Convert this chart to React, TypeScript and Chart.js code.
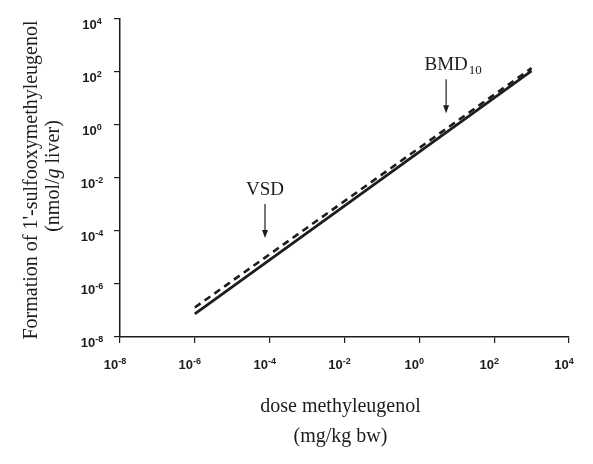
import React, { useEffect, useRef } from 'react';
import { Chart, registerables } from 'chart.js';

Chart.register(...registerables);

// ---- data ----
const doseMgKg = [1e-6, 1e3];
const formationSolid = [7.5e-8, 1.1e2];
const formationDashed = [1.3e-7, 1.4e2];
const tickExponents = [-8, -6, -4, -2, 0, 2, 4];
const markerNames = ['VSD', 'BMD'];
const markerSubscripts = ['', '10'];
const markerDoses = [7.5e-5, 5.2];
const markerTipValues = [5.5e-5, 2.8];
const xTitleLines = ['dose methyleugenol', '(mg/kg bw)'];
const yTitleLine = "Formation of 1'-sulfooxymethyleugenol";
const yUnitParts = ['(nmol/', 'g', ' liver)'];

const INK = '#1c1c1c';
const SERIF = "'Liberation Serif', 'Times New Roman', serif";
const SANS = "'Liberation Sans', Arial, sans-serif";

const overlay = {
  id: 'overlay',
  afterDraw(chart: any) {
    const { ctx, scales, chartArea: ca } = chart;
    const xs = scales.x;
    const ys = scales.y;
    ctx.save();
    ctx.fillStyle = INK;
    ctx.strokeStyle = INK;

    const drawPower = (exp: number, cx: number, baseY: number) => {
      const base = '10';
      const sup = String(exp);
      ctx.font = `bold 13px ${SANS}`;
      const wb = ctx.measureText(base).width;
      ctx.font = `bold 9px ${SANS}`;
      const ws = ctx.measureText(sup).width;
      const x0 = cx - (wb + ws) / 2;
      ctx.textAlign = 'left';
      ctx.textBaseline = 'alphabetic';
      ctx.font = `bold 13px ${SANS}`;
      ctx.fillText(base, x0, baseY);
      ctx.font = `bold 9px ${SANS}`;
      ctx.fillText(sup, x0 + wb, baseY - 5);
    };

    tickExponents.forEach((e) => {
      const v = Math.pow(10, e);
      drawPower(e, xs.getPixelForValue(v) - 5, ca.bottom + 32);
      drawPower(e, ca.left - 28, ys.getPixelForValue(v) + 10);
    });

    // x title
    ctx.font = `20px ${SERIF}`;
    ctx.textAlign = 'center';
    ctx.textBaseline = 'middle';
    const xc = (ca.left + ca.right) / 2 - 4;
    ctx.fillText(xTitleLines[0], xc, ca.bottom + 70);
    ctx.fillText(xTitleLines[1], xc, ca.bottom + 100);

    // y title
    ctx.save();
    ctx.translate(32, 180);
    ctx.rotate(-Math.PI / 2);
    ctx.font = `20px ${SERIF}`;
    ctx.textAlign = 'center';
    ctx.textBaseline = 'middle';
    ctx.fillText(yTitleLine, 0, 0);
    ctx.restore();

    ctx.save();
    ctx.translate(54, 176);
    ctx.rotate(-Math.PI / 2);
    ctx.textAlign = 'left';
    ctx.textBaseline = 'middle';
    const fonts = yUnitParts.map((_, i) => (i === 1 ? `italic 20px ${SERIF}` : `20px ${SERIF}`));
    const widths = yUnitParts.map((p, i) => {
      ctx.font = fonts[i];
      return ctx.measureText(p).width;
    });
    let px = -widths.reduce((a, b) => a + b, 0) / 2;
    yUnitParts.forEach((p, i) => {
      ctx.font = fonts[i];
      ctx.fillText(p, px, 0);
      px += widths[i];
    });
    ctx.restore();

    // markers
    markerNames.forEach((name, i) => {
      const x = xs.getPixelForValue(markerDoses[i]);
      const tipY = ys.getPixelForValue(markerTipValues[i]);
      const topY = tipY - 34;
      ctx.lineWidth = 1.2;
      ctx.beginPath();
      ctx.moveTo(x, topY);
      ctx.lineTo(x, tipY - 6);
      ctx.stroke();
      ctx.beginPath();
      ctx.moveTo(x - 3, tipY - 8);
      ctx.lineTo(x + 3, tipY - 8);
      ctx.lineTo(x, tipY);
      ctx.closePath();
      ctx.fill();

      ctx.font = `19px ${SERIF}`;
      ctx.textAlign = 'center';
      ctx.textBaseline = 'middle';
      const w = ctx.measureText(name).width;
      ctx.fillText(name, x, topY - 14);
      if (markerSubscripts[i]) {
        ctx.font = `13px ${SERIF}`;
        ctx.textAlign = 'left';
        ctx.fillText(markerSubscripts[i], x + w / 2 + 1, topY - 9);
      }
    });

    ctx.restore();
  },
};

export default function App() {
  const ref = useRef<HTMLCanvasElement | null>(null);

  useEffect(() => {
    document.body.style.margin = '0';
    const canvas = ref.current;
    if (!canvas) return;
    const chart = new Chart(canvas, {
      type: 'line',
      data: {
        datasets: [
          {
            label: 'solid',
            data: doseMgKg.map((x, i) => ({ x, y: formationSolid[i] })),
            borderColor: INK,
            borderWidth: 2.8,
            pointRadius: 0,
            fill: false,
          },
          {
            label: 'dashed',
            data: doseMgKg.map((x, i) => ({ x, y: formationDashed[i] })),
            borderColor: INK,
            borderWidth: 2.6,
            borderDash: [7, 5],
            pointRadius: 0,
            fill: false,
          },
        ],
      },
      options: {
        animation: false,
        responsive: false,
        devicePixelRatio: 1,
        layout: { padding: { left: 0, right: 24, top: 19, bottom: 0 } },
        plugins: { legend: { display: false }, tooltip: { enabled: false } },
        scales: {
          x: {
            type: 'logarithmic',
            min: 1e-8,
            max: 1e4,
            afterBuildTicks: (s: any) => {
              s.ticks = tickExponents.map((e) => ({ value: Math.pow(10, e) }));
            },
            afterFit: (s: any) => {
              s.height = 127;
            },
            ticks: { display: false, autoSkip: false },
            grid: { display: true, drawOnChartArea: false, drawTicks: true, tickLength: 6, color: INK, lineWidth: 1.2 },
            border: { display: true, color: INK, width: 1.5 },
          },
          y: {
            type: 'logarithmic',
            min: 1e-8,
            max: 1e4,
            afterBuildTicks: (s: any) => {
              s.ticks = tickExponents.map((e) => ({ value: Math.pow(10, e) }));
            },
            afterFit: (s: any) => {
              s.width = 120;
            },
            ticks: { display: false, autoSkip: false },
            grid: { display: true, drawOnChartArea: false, drawTicks: true, tickLength: 6, color: INK, lineWidth: 1.2 },
            border: { display: true, color: INK, width: 1.5 },
          },
        },
      },
      plugins: [overlay],
    } as any);
    return () => chart.destroy();
  }, []);

  return (
    <div style={{ position: 'fixed', left: 0, top: 0, width: 593, height: 464, background: '#fff' }}>
      <canvas ref={ref} width={593} height={464} style={{ width: 593, height: 464 }} />
    </div>
  );
}
